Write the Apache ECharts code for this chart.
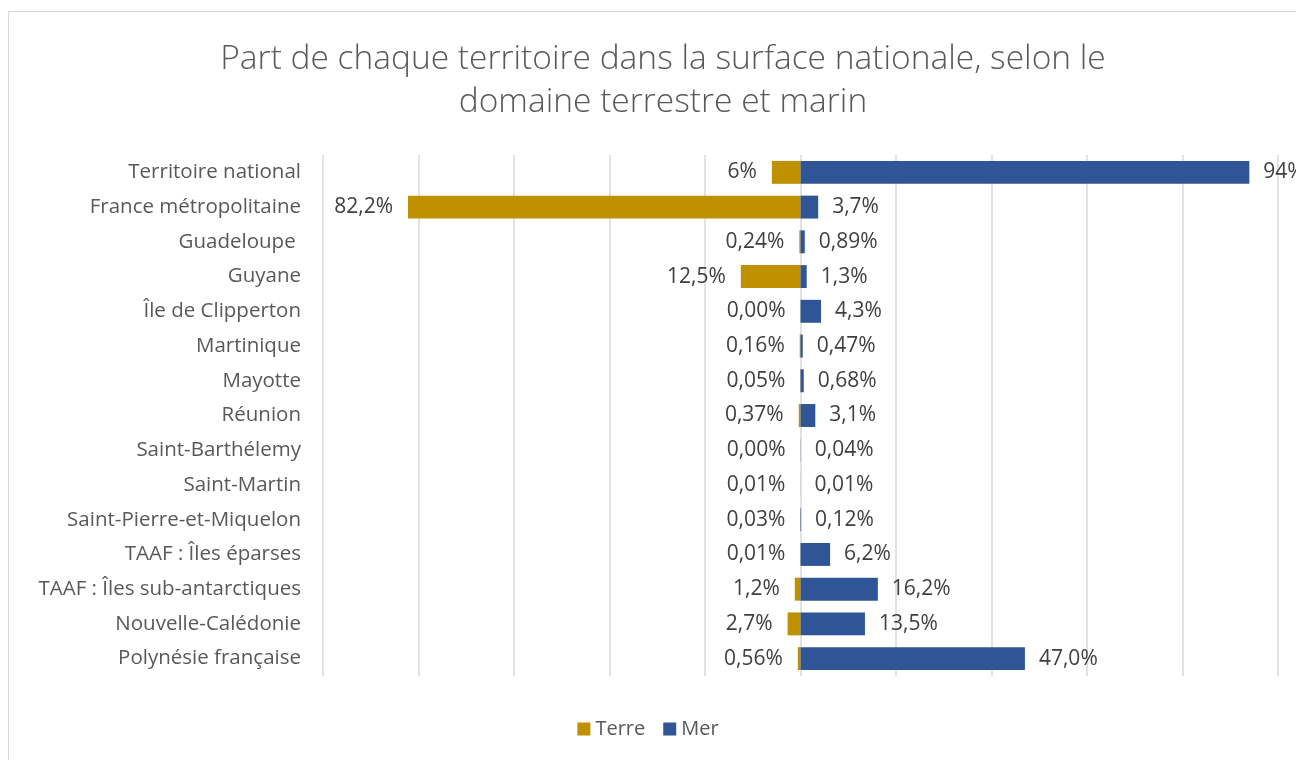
<!DOCTYPE html>
<html>
<head>
<meta charset="utf-8">
<script src="https://cdn.jsdelivr.net/npm/echarts@6/dist/echarts.min.js"></script>
<style>
  html, body { margin: 0; padding: 0; background: #fff; }
  .frame { position: absolute; left: 8px; top: 11px; width: 1300px; height: 760px; border: 1px solid #d9d9d9; box-sizing: border-box; }
  #chart { position: absolute; left: 0; top: 0; width: 1296px; height: 760px; }
</style>
</head>
<body>
<div class="frame"></div>
<div id="chart"></div>
<script>
const categories = [
  'Territoire national', 'France métropolitaine', 'Guadeloupe ', 'Guyane', 'Île de Clipperton',
  'Martinique', 'Mayotte', 'Réunion', 'Saint-Barthélemy', 'Saint-Martin',
  'Saint-Pierre-et-Miquelon', 'TAAF : Îles éparses', 'TAAF : Îles sub-antarctiques',
  'Nouvelle-Calédonie', 'Polynésie française'
];
const terre = [6, 82.2, 0.24, 12.5, 0, 0.16, 0.05, 0.37, 0, 0.01, 0.03, 0.01, 1.2, 2.7, 0.56];
const mer = [94, 3.7, 0.89, 1.3, 4.3, 0.47, 0.68, 3.1, 0.04, 0.01, 0.12, 6.2, 16.2, 13.5, 47.0];
const terreLabels = ['6%', '82,2%', '0,24%', '12,5%', '0,00%', '0,16%', '0,05%', '0,37%', '0,00%', '0,01%', '0,03%', '0,01%', '1,2%', '2,7%', '0,56%'];
const merLabels = ['94%', '3,7%', '0,89%', '1,3%', '4,3%', '0,47%', '0,68%', '3,1%', '0,04%', '0,01%', '0,12%', '6,2%', '16,2%', '13,5%', '47,0%'];

const font = 'Open Sans';
const chart = echarts.init(document.getElementById('chart'));

chart.setOption({
  animation: false,
  textStyle: { fontFamily: font },
  title: {
    text: 'Part de chaque territoire dans la surface nationale, selon le\ndomaine terrestre et marin',
    left: 658,
    textAlign: 'center',
    top: 33,
    textStyle: { fontFamily: font, fontWeight: 300, fontSize: 33.5, lineHeight: 43, color: '#595959' }
  },
  legend: {
    top: 714,
    left: 'center',
    itemWidth: 13,
    itemHeight: 13,
    itemGap: 18,
    icon: 'rect',
    textStyle: { fontFamily: font, fontSize: 20, color: '#595959' },
    data: ['Terre', 'Mer']
  },
  grid: { left: 323, right: 18, top: 155, bottom: 84 },
  xAxis: {
    type: 'value',
    min: -100,
    max: 100,
    interval: 20,
    axisLabel: { show: false },
    axisLine: { show: false },
    axisTick: { show: false },
    splitLine: { lineStyle: { color: '#d9d9d9', width: 1.5 } }
  },
  yAxis: {
    type: 'category',
    inverse: true,
    data: categories,
    axisLine: { show: false },
    axisTick: { show: false },
    axisLabel: { fontFamily: font, fontSize: 20.5, color: '#595959', margin: 22 }
  },
  series: [
    {
      name: 'Terre',
      type: 'bar',
      data: terre.map(v => -v),
      barWidth: '66%',
      barGap: '-100%',
      itemStyle: { color: '#BF9000' },
      label: {
        show: true,
        position: 'left',
        distance: 15,
        fontFamily: font,
        fontSize: 21,
        color: '#404040',
        formatter: p => terreLabels[p.dataIndex]
      }
    },
    {
      name: 'Mer',
      type: 'bar',
      data: mer,
      barWidth: '66%',
      itemStyle: { color: '#2F5597' },
      label: {
        show: true,
        position: 'right',
        distance: 14,
        fontFamily: font,
        fontSize: 21,
        color: '#404040',
        formatter: p => merLabels[p.dataIndex]
      }
    }
  ]
});
</script>
</body>
</html>
